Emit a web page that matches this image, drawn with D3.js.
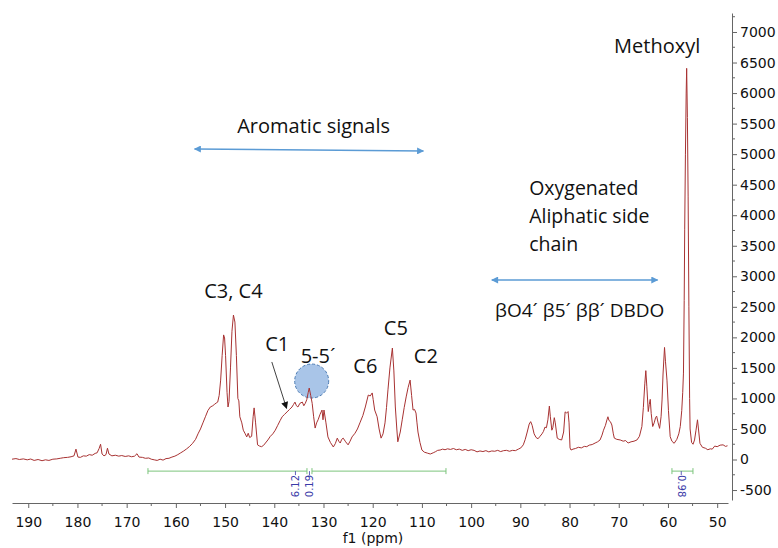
<!DOCTYPE html>
<html><head><meta charset="utf-8">
<script src="https://cdn.jsdelivr.net/npm/d3@7"></script>
<style>body{margin:0;background:#fff} svg{display:block}</style>
</head><body><svg id="c" width="778" height="548"></svg>
<script>
// ---------- data ----------
const spectrum = [
[193.3,5],[192.5,15],[191.8,0],[191,10],[190.2,-5],[189.5,8],[188.8,-15],[188,0],[187.2,-20],[186.5,-5],
[185.8,-15],[185,5],[184.2,10],[183.5,20],[182.8,30],[182,35],[181.3,45],[180.7,60],[180.3,170],[179.9,40],
[179.4,35],[178.8,60],[178.2,55],[177.6,80],[177,70],[176.4,100],[176,110],[175.6,180],[175.3,250],[175,90],
[174.6,60],[174.2,80],[173.9,185],[173.6,90],[173,60],[172.3,70],[171.6,55],[171,65],[170.3,50],[169.6,60],
[169,45],[168.4,55],[167.9,95],[167.5,40],[166.8,35],[166.2,20],[165.5,25],[165,5],[164.4,-5],[163.8,-15],
[163.2,5],[162.6,-10],[162,15],[161.4,20],[160.8,40],[160.2,55],[159.6,80],[159,110],[158.4,140],[157.8,175],
[157.2,215],[156.6,265],[156,330],[155.5,420],[155,500],[154.5,600],[154,700],[153.5,800],[153,860],[152.5,880],
[152.2,900],[151.8,925],[151.5,940],[151.2,1050],[150.9,1300],[150.6,1700],[150.3,2040],[150.1,1990],[149.9,1700],[149.6,1100],
[149.4,860],[149.2,950],[148.9,1500],[148.6,2100],[148.3,2365],[148.0,2250],[147.7,1700],[147.4,1000],[147.2,960],[147,700],
[146.6,600],[146.3,480],[145.9,420],[145.6,370],[145.3,430],[145,360],[144.6,380],[144.3,700],[144.1,845],[143.8,600],
[143.4,240],[143.0,220],[142.6,210],[142.2,230],[141.8,270],[141.3,320],[140.8,380],[140.3,420],[139.8,480],[139.3,560],
[138.8,640],[138.4,700],[137.9,740],[137.4,780],[136.9,820],[136.4,860],[136.1,900],[135.8,940],[135.5,880],[135.2,860],
[134.8,920],[134.3,940],[134.0,880],[133.7,920],[133.4,980],[133.1,1100],[132.9,1170],[132.6,1050],[132.3,920],[132.0,700],
[131.7,515],[131.4,600],[131.1,650],[130.7,740],[130.3,810],[130.1,650],[129.9,810],[129.5,600],[129.1,370],[128.6,280],
[128.0,205],[127.6,260],[127.2,350],[126.9,300],[126.6,270],[126.3,330],[126.0,350],[125.5,290],[125.0,240],[124.6,300],
[124.2,370],[123.6,430],[123.1,500],[122.6,600],[122.0,720],[121.5,860],[120.9,1055],[120.5,1040],[120.1,1090],[119.9,980],
[119.6,810],[119.1,700],[118.7,500],[118.3,350],[117.9,420],[117.5,600],[117.2,850],[116.9,1140],[116.5,1500],[116.0,1825],
[115.7,1450],[115.4,860],[115.1,500],[114.9,290],[114.4,450],[114.0,650],[113.6,850],[113.2,1025],[112.8,1180],[112.4,1300],
[112.1,1050],[111.8,810],[111.5,820],[111.2,760],[111.0,600],[110.8,450],[110.4,280],[110.0,155],[109.5,120],[108.9,105],
[108.3,90],[107.7,110],[107.2,130],[106.8,150],[106.3,155],[105.8,170],[105.3,160],[104.8,175],[104.2,165],[103.6,180],
[103,160],[102.4,170],[101.8,150],[101.2,165],[100.6,145],[100,160],[99.4,150],[98.8,125],[98.2,140],[97.6,130],
[97,145],[96.4,125],[95.8,140],[95.2,135],[94.6,150],[94,130],[93.4,145],[92.8,150],[92.2,135],[91.6,150],
[91,145],[90.4,170],[89.9,190],[89.4,240],[89.0,330],[88.6,450],[88.2,580],[87.9,620],[87.6,560],[87.2,420],
[86.8,360],[86.4,340],[86.0,380],[85.6,420],[85.3,460],[85.0,530],[84.7,520],[84.4,650],[84.1,875],[83.9,700],
[83.6,480],[83.4,520],[83.1,685],[82.9,600],[82.5,350],[82.1,330],[81.6,320],[81.2,450],[80.9,780],[80.6,760],
[80.3,785],[80.1,600],[79.9,190],[79.7,155],[79.3,170],[78.8,180],[78.2,200],[77.6,190],[77,215],[76.5,210],
[76,235],[75.4,245],[74.8,270],[74.3,290],[73.8,320],[73.4,400],[73.1,480],[72.7,560],[72.4,650],[72.2,700],
[72.0,640],[71.7,620],[71.4,565],[71.1,420],[70.9,350],[70.4,330],[69.7,320],[69.1,300],[68.6,310],[68.1,270],
[67.5,290],[66.9,300],[66.3,320],[65.8,380],[65.3,540],[65.0,850],[64.7,1250],[64.5,1455],[64.3,1200],[64.0,785],
[63.8,900],[63.6,985],[63.4,750],[63.1,540],[62.8,600],[62.5,690],[62.3,710],[62.0,600],[61.7,510],[61.4,700],
[61.2,975],[61.0,1400],[60.7,1835],[60.5,1600],[60.2,1300],[59.9,800],[59.55,375],[59.2,300],[58.74,265],[58.2,330],
[57.8,420],[57.5,540],[57.2,800],[57.0,1100],[56.85,1415],[56.7,2600],[56.6,3760],[56.45,5000],[56.3,6000],[56.2,6405],
[56.05,5600],[55.9,4300],[55.75,2500],[55.6,1000],[55.5,500],[55.2,280],[54.9,250],[54.6,320],[54.3,480],[54.0,650],
[53.8,500],[53.5,265],[53.0,200],[52.4,185],[51.9,160],[51.4,175],[51.0,170],[50.5,220],[50.0,210],[49.4,235],
[48.8,240],[48.3,215],[47.9,225]
];
const xMajorTicks = [190,180,170,160,150,140,130,120,110,100,90,80,70,60,50];
const xMinorTicks = [185,175,165,155,145,135,125,115,105,95,85,75,65,55];
const yMajorTicks = [-500,0,500,1000,1500,2000,2500,3000,3500,4000,4500,5000,5500,6000,6500,7000];
const yMinorTicks = [-250,250,750,1250,1750,2250,2750,3250,3750,4250,4750,5250,5750,6250,6750,7250];
const integralRanges = [[165.67,133.36],[132.34,105.11],[59.19,54.92]];
const integralLabels = ["6.12","0.19","0.98"];
const integralLabelPpm = [135.7,132.85,57.3];
const integralLabelRotation = [-90,-90,90];

// ---------- layout ----------
const svg = d3.select("#c");
const x = d3.scaleLinear().domain([193.3,47.8]).range([12,728]);
const y = d3.scaleLinear().domain([-663,7311]).range([500,13]);
const axisColor = "#666";
const axisFont = "'DejaVu Sans', Verdana, sans-serif";
const annFont = "'Open Sans', 'Noto Sans', sans-serif";

const defs = svg.append("defs");
defs.append("marker").attr("id","blueHead").attr("viewBox","0 0 10 10")
  .attr("refX",9).attr("refY",5).attr("markerWidth",9).attr("markerHeight",7)
  .attr("markerUnits","userSpaceOnUse").attr("orient","auto-start-reverse")
  .append("path").attr("d","M0,0L10,5L0,10z").attr("fill","#5b9bd5");
defs.append("marker").attr("id","blackHead").attr("viewBox","0 0 10 10")
  .attr("refX",9).attr("refY",5).attr("markerWidth",8).attr("markerHeight",7)
  .attr("markerUnits","userSpaceOnUse").attr("orient","auto")
  .append("path").attr("d","M0,0L10,5L0,10z").attr("fill","#111");

// x axis
const gx = svg.append("g").attr("transform","translate(0,503)");
gx.call(d3.axisBottom(x).tickValues(xMajorTicks).tickSize(5).tickSizeOuter(0).tickPadding(9).tickFormat(d=>String(d)));
gx.append("g").selectAll("line").data(xMinorTicks).join("line")
  .attr("x1",d=>x(d)).attr("x2",d=>x(d)).attr("y1",0).attr("y2",3).attr("stroke",axisColor);
gx.select(".domain").attr("stroke",axisColor);
gx.selectAll(".tick line").attr("stroke",axisColor);
gx.selectAll(".tick text").attr("font-family",axisFont).attr("font-size",14).attr("fill","#111");
svg.append("text").attr("x",373).attr("y",543).attr("text-anchor","middle")
  .attr("font-family",axisFont).attr("font-size",14).attr("fill","#111").text("f1 (ppm)");

// y axis
const gy = svg.append("g").attr("transform","translate(732,0)");
gy.call(d3.axisRight(y).tickValues(yMajorTicks).tickSize(5).tickSizeOuter(0).tickPadding(3).tickFormat(d=>String(d)));
gy.append("g").selectAll("line").data(yMinorTicks).join("line")
  .attr("x1",0).attr("x2",3).attr("y1",d=>y(d)).attr("y2",d=>y(d)).attr("stroke",axisColor);
gy.select(".domain").attr("stroke",axisColor);
gy.selectAll(".tick line").attr("stroke",axisColor);
gy.selectAll(".tick text").attr("font-family",axisFont).attr("font-size",14).attr("fill","#111");

// integrals
const intY = y(-190);
const ig = svg.append("g");
integralRanges.forEach((r,i)=>{
  ig.append("line").attr("x1",x(r[0])).attr("x2",x(r[1])).attr("y1",intY).attr("y2",intY)
    .attr("stroke","#7cc47c").attr("stroke-width",1);
  [r[0],r[1]].forEach(p=>ig.append("line").attr("x1",x(p)).attr("x2",x(p))
    .attr("y1",intY-3).attr("y2",intY+3).attr("stroke","#7cc47c"));
  const lx = x(integralLabelPpm[i]);
  ig.append("line").attr("x1",lx).attr("x2",lx).attr("y1",intY).attr("y2",intY+4)
    .attr("stroke","#3a3aa8").attr("stroke-width",0.8);
  const cy = intY+15;
  ig.append("text").attr("transform",`translate(${lx},${cy}) rotate(${integralLabelRotation[i]})`)
    .attr("text-anchor","middle").attr("dy","0.35em")
    .attr("font-family",axisFont).attr("font-size",10).attr("fill","#3a3aa8").text(integralLabels[i]);
});

// circle highlight (5-5')
svg.append("circle").attr("cx",x(132.4)).attr("cy",y(1285)).attr("r",17)
  .attr("fill","#a9c5e8").attr("stroke","#4d7cb3").attr("stroke-width",1).attr("stroke-dasharray","3,2");

// spectrum
const line = d3.line().x(d=>x(d[0])).y(d=>y(d[1]));
svg.append("path").datum(spectrum).attr("d",line).attr("fill","none")
  .attr("stroke","#a83232").attr("stroke-width",1).attr("stroke-linejoin","round");

// annotations
const annotations = [
  {t:"Aromatic signals", p:132.0, v:5346, a:"middle", s:20},
  {t:"C3, C4", p:148.3, v:2645, a:"middle", s:20},
  {t:"C1", p:139.4, v:1777, a:"middle", s:20},
  {t:"5-5´", p:131.1, v:1580, a:"middle", s:20},
  {t:"C6", p:121.5, v:1416, a:"middle", s:20},
  {t:"C5", p:115.3, v:2039, a:"middle", s:20},
  {t:"C2", p:109.2, v:1580, a:"middle", s:20},
  {t:"Oxygenated", p:88.2, v:4331, a:"start", s:19.5},
  {t:"Aliphatic side", p:88.2, v:3873, a:"start", s:19.5},
  {t:"chain", p:88.2, v:3414, a:"start", s:19.5},
  {t:"βO4´ β5´ ββ´ DBDO", p:95.15, v:2333, a:"start", s:19},
  {t:"Methoxyl", p:62.2, v:6660, a:"middle", s:20}
];
svg.append("g").selectAll("text").data(annotations).join("text")
  .attr("x",d=>x(d.p)).attr("y",d=>y(d.v)).attr("text-anchor",d=>d.a)
  .attr("font-family",annFont).attr("font-size",d=>d.s).attr("fill","#111").text(d=>d.t);

const arrows = [
  {p1:156.2,v1:5084,p2:109.7,v2:5052},
  {p1:95.8,v1:2939,p2:62.1,v2:2939}
];
svg.append("g").selectAll("line").data(arrows).join("line")
  .attr("x1",d=>x(d.p1)).attr("y1",d=>y(d.v1)).attr("x2",d=>x(d.p2)).attr("y2",d=>y(d.v2))
  .attr("stroke","#5b9bd5").attr("stroke-width",1.5)
  .attr("marker-start","url(#blueHead)").attr("marker-end","url(#blueHead)");

svg.append("line").attr("x1",x(140.5)).attr("y1",y(1597)).attr("x2",x(137.5)).attr("y2",y(838))
  .attr("stroke","#111").attr("stroke-width",0.8).attr("marker-end","url(#blackHead)");
</script></body></html>
